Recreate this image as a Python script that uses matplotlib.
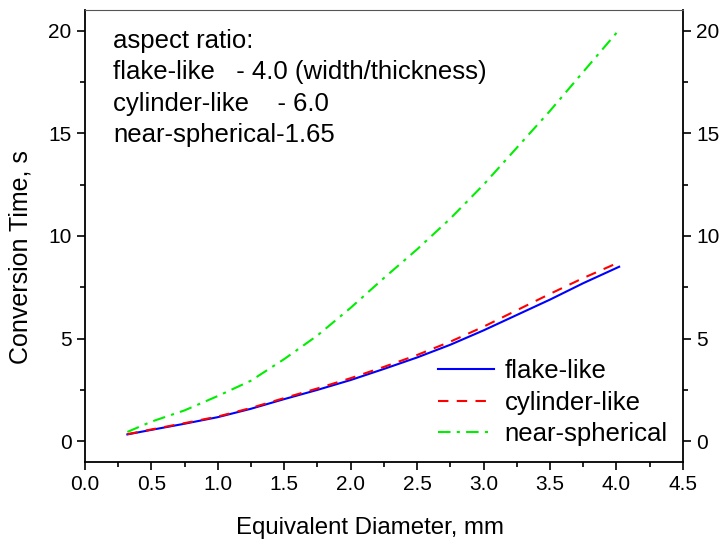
import matplotlib
matplotlib.use('Agg')
from matplotlib import pyplot as plt
from matplotlib.ticker import MultipleLocator

plt.rcParams['font.family'] = ['Liberation Sans', 'DejaVu Sans']

# equivalent diameter (mm)
diam = [0.32, 0.5, 0.75, 1.0, 1.25, 1.5, 1.75, 2.0, 2.25, 2.5, 2.75, 3.0, 3.25, 3.5, 3.75, 4.02]

# conversion time (s)
t_flake = [0.33, 0.55, 0.85, 1.17, 1.58, 2.05, 2.5, 2.98, 3.52, 4.08, 4.7, 5.4, 6.15, 6.9, 7.7, 8.5]
t_cyl = [0.34, 0.57, 0.88, 1.2, 1.62, 2.1, 2.57, 3.07, 3.62, 4.2, 4.85, 5.58, 6.38, 7.18, 7.95, 8.72]
t_sph = [0.45, 0.95, 1.5, 2.2, 2.95, 4.0, 5.15, 6.5, 7.95, 9.35, 10.85, 12.5, 14.3, 16.1, 18.0, 20.05]

labels = ['flake-like', 'cylinder-like', 'near-spherical']
note = ('aspect ratio:\n'
        'flake-like   - 4.0 (width/thickness)\n'
        'cylinder-like    - 6.0\n'
        'near-spherical-1.65')

fig = plt.figure(figsize=(7.25, 5.4), dpi=100, facecolor='w')
ax = fig.add_axes([0.117, 0.145, 0.825, 0.836])

ax.plot(diam, t_flake, color='#0000ff', lw=1.5, ls='-', label=labels[0])
ax.plot(diam, t_cyl, color='#ff0000', lw=1.5, ls=(0, (5, 4)), label=labels[1])
ax.plot(diam, t_sph, color='#00ee00', lw=1.5, ls=(0, (6, 3, 1.5, 3)), label=labels[2])

ax.set_xlim(0, 4.5)
ax.set_ylim(-1, 21)
ax.xaxis.set_major_locator(MultipleLocator(0.5))
ax.xaxis.set_minor_locator(MultipleLocator(0.25))
ax.yaxis.set_major_locator(MultipleLocator(5))
ax.yaxis.set_minor_locator(MultipleLocator(2.5))
ax.xaxis.set_major_formatter(matplotlib.ticker.FormatStrFormatter('%.1f'))

ax.tick_params(which='both', direction='out', top=False, right=True,
               labelright=True, width=1.2, labelsize=15)
ax.tick_params(which='major', length=6)
ax.tick_params(which='minor', length=3.5)
for side in ['left', 'bottom', 'right']:
    ax.spines[side].set_linewidth(1.3)
ax.spines['top'].set_linewidth(0.8)
ax.spines['top'].set_color('#555555')

ax.set_xlabel('Equivalent Diameter, mm', fontsize=17.3)
ax.set_ylabel('Conversion Time, s', fontsize=18)
ax.xaxis.set_label_coords(0.476, -0.123)
ax.yaxis.set_label_coords(-0.088, 0.4535)

ax.text(0.047, 0.958, note, transform=ax.transAxes, fontsize=18.5,
        va='top', ha='left', linespacing=1.38)

ax.legend(loc='lower right', frameon=False, fontsize=18.5, handlelength=2.2,
          handletextpad=0.4, labelspacing=0.3, borderaxespad=0.2)

fig.savefig('out.png', dpi=100)
